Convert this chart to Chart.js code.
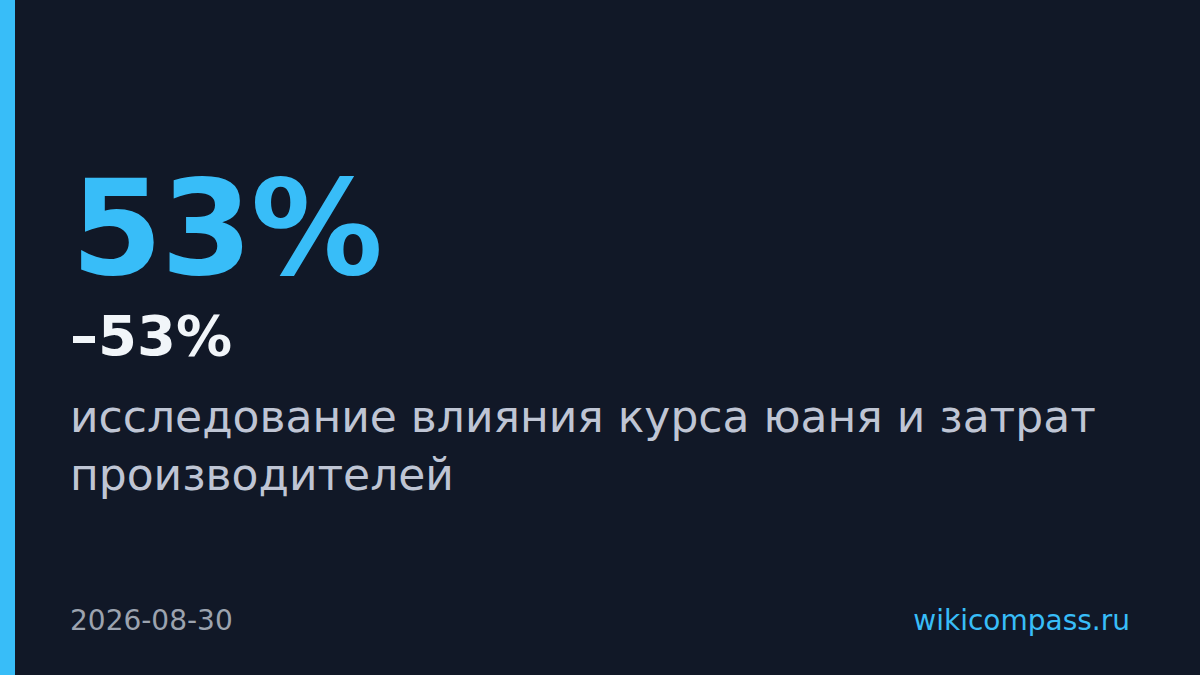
<!DOCTYPE html>
<html lang="ru">
<head>
<meta charset="utf-8">
<script src="https://cdn.jsdelivr.net/npm/chart.js@4/dist/chart.umd.min.js"></script>
<style>
  html, body { margin: 0; padding: 0; }
  body { width: 1200px; height: 675px; background: #111827; position: relative; overflow: hidden; font-family: "DejaVu Sans", sans-serif; }
  #accentWrap { position: absolute; left: 0; top: 0; width: 15px; height: 675px; }
  .big { position: absolute; left: 71px; top: 162px; font-size: 132px; font-weight: bold; color: #38bdf8; line-height: 1; letter-spacing: -2px; }
  .delta { position: absolute; left: 70px; top: 308px; font-size: 56px; font-weight: bold; color: #f1f5f9; line-height: 1; }
  .label { position: absolute; left: 70px; top: 388px; width: 1060px; font-size: 44px; color: #bfc5d4; line-height: 58px; }
  .date { position: absolute; left: 70px; top: 607px; font-size: 28px; color: #9ca3af; line-height: 1; }
  .source { position: absolute; right: 70px; top: 607px; font-size: 28px; color: #38bdf8; line-height: 1; }
</style>
</head>
<body>
<div id="accentWrap"><canvas id="accent"></canvas></div>
<div class="big" id="big"></div>
<div class="delta" id="delta"></div>
<div class="label" id="label"></div>
<div class="date" id="date"></div>
<div class="source" id="source"></div>
<script>
// значения карточки
const statValues = [53];
const deltaValues = [-53];
const labelText = ['исследование влияния курса юаня и затрат производителей'];
const dateText = ['2026-08-30'];
const sourceText = ['wikicompass.ru'];
const accentCategories = ['accent'];
const accentValues = [100];

document.getElementById('big').textContent = statValues[0] + '%';
document.getElementById('delta').textContent = '\u2013' + Math.abs(deltaValues[0]) + '%';
document.getElementById('label').textContent = labelText[0];
document.getElementById('date').textContent = dateText[0];
document.getElementById('source').textContent = sourceText[0];

window.addEventListener('load', function() {
    if (typeof Chart === 'undefined') {
        console.error('Chart.js not loaded');
        return;
    }
    const ctx = document.getElementById('accent').getContext('2d');
    new Chart(ctx, {
        type: 'bar',
        data: {
            labels: accentCategories,
            datasets: [{
                data: accentValues,
                backgroundColor: '#38bdf8',
                borderWidth: 0,
                barPercentage: 1,
                categoryPercentage: 1
            }]
        },
        options: {
            responsive: true,
            maintainAspectRatio: false,
            animation: false,
            layout: { padding: 0 },
            scales: {
                x: { display: false },
                y: { display: false, min: 0, max: 100 }
            },
            plugins: {
                legend: { display: false },
                tooltip: { enabled: false }
            }
        }
    });
});
</script>
</body>
</html>
